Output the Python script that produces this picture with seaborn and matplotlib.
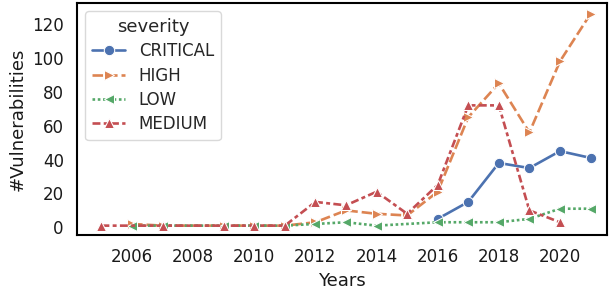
import numpy as np
import pandas as pd
import matplotlib
matplotlib.use("Agg")
import matplotlib.pyplot as plt
import seaborn as sns

critical_years = [2016, 2017, 2018, 2019, 2020, 2021]
critical_vals = [5, 15, 38, 35, 45, 41]

high_years = [2006, 2007, 2009, 2010, 2011, 2012, 2013, 2014, 2015, 2016, 2017, 2018, 2019, 2020, 2021]
high_vals = [2, 1, 1, 1, 1, 3, 10, 8, 7, 21, 65, 85, 56, 98, 126]

low_years = [2006, 2007, 2009, 2010, 2011, 2012, 2013, 2014, 2016, 2017, 2018, 2019, 2020, 2021]
low_vals = [1, 1, 1, 1, 1, 2, 3, 1, 3, 3, 3, 5, 11, 11]

medium_years = [2005, 2007, 2009, 2010, 2011, 2012, 2013, 2014, 2015, 2016, 2017, 2018, 2019, 2020]
medium_vals = [1, 1, 1, 1, 1, 15, 13, 21, 8, 25, 72, 72, 10, 3]

severities = ["CRITICAL", "HIGH", "LOW", "MEDIUM"]
xticks = [2006, 2008, 2010, 2012, 2014, 2016, 2018, 2020]

rows = []
for sev, ys, vs in zip(severities,
                       [critical_years, high_years, low_years, medium_years],
                       [critical_vals, high_vals, low_vals, medium_vals]):
    for y, v in zip(ys, vs):
        rows.append({"Years": y, "#Vulnerabilities": v, "severity": sev})
df = pd.DataFrame(rows)

sns.set_theme(style="white", font_scale=1.1)
plt.rcParams["font.family"] = ["DejaVu Sans"]
plt.rcParams["legend.edgecolor"] = "0.85"
plt.rcParams["legend.framealpha"] = 1.0

fig, ax = plt.subplots(figsize=(6.11, 2.89), dpi=100)
sns.lineplot(data=df, x="Years", y="#Vulnerabilities", hue="severity", style="severity",
             hue_order=severities, style_order=severities,
             markers=["o", ">", "<", "^"],
             dashes=["", (4, 1.5), (1, 1), (3, 1.25, 1.5, 1.25)],
             palette="deep", linewidth=1.9, markersize=7.5, ax=ax)

ax.set_xticks(xticks)
ax.set_xlim(2004.2, 2021.55)
ax.set_ylim(-4.5, 132.5)
ax.set_yticks([0, 20, 40, 60, 80, 100, 120])
for sp in ax.spines.values():
    sp.set_edgecolor("black")
    sp.set_linewidth(1.5)
ax.tick_params(axis="both", labelsize=12, labelcolor="0.1")
ax.set_xlabel("Years", fontsize=13, color="0.1")
ax.set_ylabel("#Vulnerabilities", fontsize=13, color="0.1")
leg = ax.legend(title="severity", loc="upper left", fontsize=12, title_fontsize=13,
                labelspacing=0.38, edgecolor="0.85")
leg.get_frame().set_linewidth(1.0)

fig.subplots_adjust(left=0.126, right=0.994, top=0.99, bottom=0.187)
fig.savefig("out.png", dpi=100)
